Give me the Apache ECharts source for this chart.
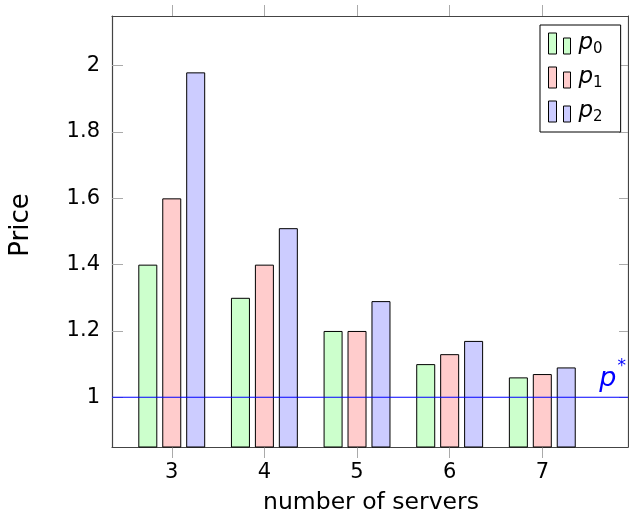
<!DOCTYPE html>
<html>
<head>
<meta charset="utf-8">
<script src="https://cdn.jsdelivr.net/npm/echarts@6/dist/echarts.min.js"></script>
<style>html,body{margin:0;padding:0;background:#fff}#c{width:629px;height:520px}</style>
</head>
<body>
<div id="c"></div>
<script>
const categories = [3, 4, 5, 6, 7];
const p0 = [1.4, 1.3, 1.2, 1.1, 1.06];
const p1 = [1.6, 1.4, 1.2, 1.13, 1.07];
const p2 = [1.98, 1.51, 1.29, 1.17, 1.09];
const yTicks = [1, 1.2, 1.4, 1.6, 1.8, 2];
const refPrice = 1;
const xMin = 2.355, xMax = 7.925;
const yMin = 0.85, yMax = 2.15;
const xTitle = 'number of servers';
const yTitle = 'Price';

const FONT = 'DejaVu Sans';
const BLUE = '#0000ff';
const chart = echarts.init(document.getElementById('c'), null, {renderer: 'canvas'});
const pairs = arr => categories.map((c, i) => [c, arr[i]]);
const refLine = [[xMin, refPrice], [xMax, refPrice]];
const lineC = '#444';
const tickC = '#aaa';

function barSeries(name, data, color) {
  return {
    name: name, type: 'bar', data: pairs(data),
    barWidth: 19, barGap: '26%',
    itemStyle: {color: color, borderColor: '#000', borderWidth: 1},
    emphasis: {disabled: true}
  };
}

chart.setOption({
  animation: false,
  textStyle: {fontFamily: FONT},
  grid: {left: 112, top: 16, right: 1, bottom: 73},
  graphic: [
    {type: 'text', x: 371, y: 503, silent: true,
     style: {text: xTitle, fontSize: 23.5, fontFamily: FONT, fill: '#000', align: 'center', verticalAlign: 'middle'}},
    {type: 'text', x: 21, y: 225, rotation: Math.PI / 2, silent: true,
     style: {text: yTitle, fontSize: 26, fontFamily: FONT, fill: '#000', align: 'center', verticalAlign: 'middle'}}
  ],
  legend: {
    orient: 'vertical', left: 540, top: 25,
    padding: [7, 18, 7, 8], itemGap: 9,
    itemWidth: 22, itemHeight: 21,
    borderColor: '#000', borderWidth: 1, backgroundColor: '#fff',
    icon: 'path://M0,0H8V21H0ZM15,5H22V21H15Z',
    itemStyle: {borderColor: '#000', borderWidth: 1},
    formatter: n => '{i|p}{s|' + n.slice(1) + '}',
    textStyle: {
      color: '#000', fontFamily: FONT,
      rich: {
        i: {fontStyle: 'italic', fontSize: 23, fontFamily: FONT, color: '#000', padding: [0, 0, 0, 3]},
        s: {fontSize: 15, fontFamily: FONT, color: '#000', verticalAlign: 'bottom', padding: [0, 0, -2, 0]}
      }
    },
    data: ['p0', 'p1', 'p2']
  },
  xAxis: [{
    type: 'value', min: xMin, max: xMax, position: 'bottom',
    axisLine: {show: true, onZero: false, lineStyle: {color: lineC, width: 1.2}},
    axisTick: {show: true, inside: false, length: 11, customValues: categories, lineStyle: {color: tickC}},
    axisLabel: {show: true, customValues: categories, margin: 15, fontSize: 21, color: '#000', fontFamily: FONT},
    splitLine: {show: false}
  }, {
    type: 'value', min: xMin, max: xMax, position: 'top',
    axisLine: {show: true, onZero: false, lineStyle: {color: lineC, width: 1.2}},
    axisTick: {show: true, inside: false, length: 11, customValues: categories, lineStyle: {color: tickC}},
    axisLabel: {show: false},
    splitLine: {show: false}
  }],
  yAxis: [{
    type: 'value', min: yMin, max: yMax, position: 'left',
    axisLine: {show: true, onZero: false, lineStyle: {color: lineC, width: 1.2}},
    axisTick: {show: true, inside: true, length: 11, customValues: yTicks, lineStyle: {color: tickC}},
    axisLabel: {show: true, customValues: yTicks, margin: 12, fontSize: 21, color: '#000', fontFamily: FONT,
      formatter: v => String(+v.toFixed(2))},
    splitLine: {show: false}
  }, {
    type: 'value', min: yMin, max: yMax, position: 'right',
    axisLine: {show: true, onZero: false, lineStyle: {color: lineC, width: 1.2}},
    axisTick: {show: true, inside: true, length: 9, customValues: yTicks, lineStyle: {color: tickC}},
    axisLabel: {show: false},
    splitLine: {show: false}
  }],
  series: [
    barSeries('p0', p0, '#ccffcc'),
    barSeries('p1', p1, '#ffcccc'),
    barSeries('p2', p2, '#ccccff'),
    {
      name: 'ref', type: 'line', data: refLine, z: 10, color: BLUE,
      showSymbol: false, symbol: 'none', silent: true,
      lineStyle: {color: BLUE, width: 1.2, type: 'solid'},
      emphasis: {disabled: true},
      markLine: {
        silent: true, symbol: 'none', animation: false,
        lineStyle: {width: 0, opacity: 1},
        label: {
          show: true, position: 'insideEndTop', distance: [2, 5],
          formatter: '{p|p}{s|*}',
          rich: {
            p: {fontStyle: 'italic', fontSize: 27, color: BLUE, fontFamily: FONT},
            s: {fontSize: 17, color: BLUE, fontFamily: FONT, verticalAlign: 'top', padding: [-7, 0, 0, 1]}
          }
        },
        data: [{yAxis: refPrice}]
      }
    }
  ]
});
</script>
</body>
</html>
